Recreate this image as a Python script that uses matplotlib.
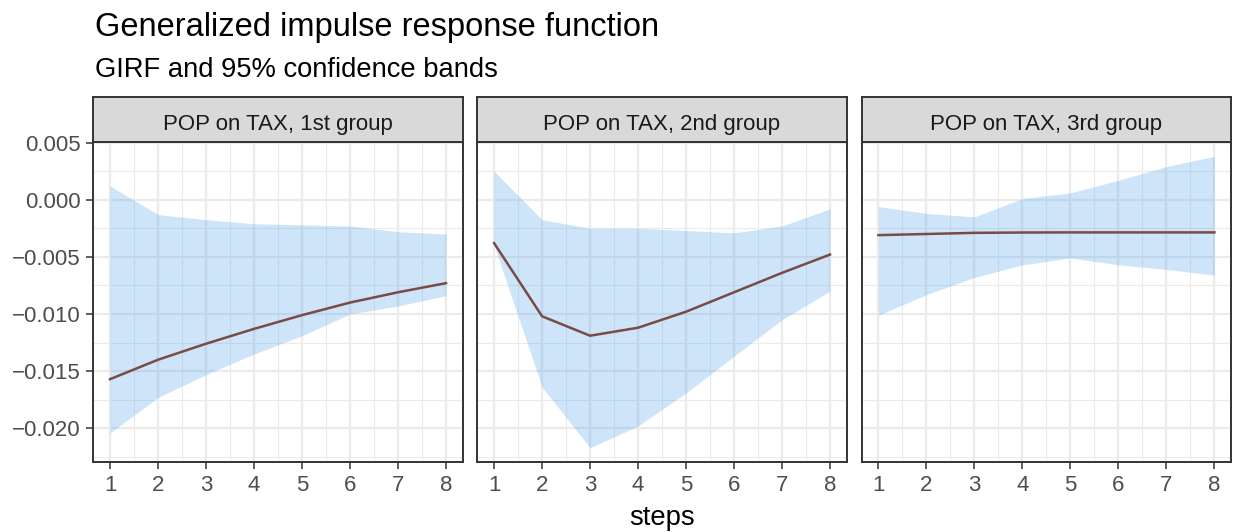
import numpy as np
import matplotlib.pyplot as plt
from matplotlib.ticker import MultipleLocator, FixedLocator

plt.rcParams['font.family'] = ['Liberation Sans', 'DejaVu Sans']

steps = np.arange(1, 9)
panels = ['POP on TAX, 1st group', 'POP on TAX, 2nd group', 'POP on TAX, 3rd group']

girf_1 = [-0.0157, -0.0140, -0.0126, -0.0113, -0.0101, -0.0090, -0.0081, -0.0073]
lower_1 = [-0.0204, -0.0173, -0.0153, -0.0135, -0.0119, -0.0100, -0.0093, -0.0084]
upper_1 = [0.0012, -0.0013, -0.00175, -0.0021, -0.0022, -0.0023, -0.0028, -0.0030]

girf_2 = [-0.0038, -0.0102, -0.0119, -0.0112, -0.0098, -0.0081, -0.0064, -0.0048]
lower_2 = [-0.0040, -0.0164, -0.0217, -0.0198, -0.0169, -0.0137, -0.0105, -0.0080]
upper_2 = [0.0025, -0.00175, -0.0025, -0.0025, -0.0027, -0.0029, -0.0023, -0.0008]

girf_3 = [-0.0031, -0.0030, -0.0029, -0.00287, -0.00286, -0.00286, -0.00286, -0.00286]
lower_3 = [-0.0101, -0.0083, -0.0068, -0.0057, -0.0051, -0.0057, -0.0061, -0.0066]
upper_3 = [-0.0006, -0.0012, -0.0015, 0.0001, 0.0006, 0.0017, 0.0029, 0.0038]

girfs = [girf_1, girf_2, girf_3]
lowers = [lower_1, lower_2, lower_3]
uppers = [upper_1, upper_2, upper_3]

W, H = 1237, 532
fig = plt.figure(figsize=(W / 100, H / 100), dpi=100)

# panel geometry in pixels
lefts = [93.3, 477.3, 861.7]
pw = 369.5
top, bottom = 141.7, 462.3
strip_h = 45

# shared y limits with ggplot-style 5% expansion
ymin = min(min(l) for l in lowers)
ymax = max(max(u) for u in uppers)
pad = 0.05 * (ymax - ymin)
ylim = (ymin - pad, ymax + pad)
xlim = (1 - 0.35, 8 + 0.35)

border = '#333333'
for i, x0 in enumerate(lefts):
    ax = fig.add_axes([x0 / W, 1 - bottom / H, pw / W, (bottom - top) / H])
    ax.set_xlim(xlim)
    ax.set_ylim(ylim)
    ax.xaxis.set_major_locator(FixedLocator(steps))
    ax.xaxis.set_minor_locator(MultipleLocator(0.5))
    ax.yaxis.set_major_locator(MultipleLocator(0.005))
    ax.yaxis.set_minor_locator(MultipleLocator(0.0025))
    ax.grid(which='major', color='#EBEBEB', linewidth=1.6, zorder=0)
    ax.grid(which='minor', color='#EBEBEB', linewidth=0.8, zorder=0)
    ax.set_axisbelow(True)

    ax.fill_between(steps, lowers[i], uppers[i], color='#3D9BE9', alpha=0.25,
                    linewidth=0, zorder=2)
    ax.plot(steps, girfs[i], color='#7A4A45', linewidth=1.8, zorder=3)

    for s in ax.spines.values():
        s.set_color(border)
        s.set_linewidth(1.4)
    ax.tick_params(which='major', length=5, width=1.1, color=border,
                   labelsize=16, labelcolor='#4D4D4D', pad=4)
    ax.tick_params(which='minor', length=0)
    ax.set_xticklabels([str(s) for s in steps])
    if i == 0:
        ax.yaxis.set_major_formatter(lambda v, p: f'{v:.3f}'.replace('-', '\u2212'))
    else:
        ax.tick_params(axis='y', which='both', left=False, labelleft=False)

    # facet strip
    sax = fig.add_axes([x0 / W, 1 - top / H, pw / W, strip_h / H])
    sax.set_xticks([])
    sax.set_yticks([])
    sax.set_facecolor('#D9D9D9')
    for s in sax.spines.values():
        s.set_color(border)
        s.set_linewidth(1.4)
    sax.text(0.5, 0.44, panels[i], ha='center', va='center_baseline', fontsize=16,
             color='#1A1A1A', transform=sax.transAxes)

fig.text(95 / W, 1 - 36 / H, 'Generalized impulse response function',
         ha='left', va='baseline', fontsize=23.5, color='black')
fig.text(95 / W, 1 - 76.7 / H, 'GIRF and 95% confidence bands',
         ha='left', va='baseline', fontsize=19.7, color='black')
fig.text(662 / W, 1 - 525 / H, 'steps', ha='center', va='baseline',
         fontsize=19.7, color='black')

fig.savefig('out.png', dpi=100)
